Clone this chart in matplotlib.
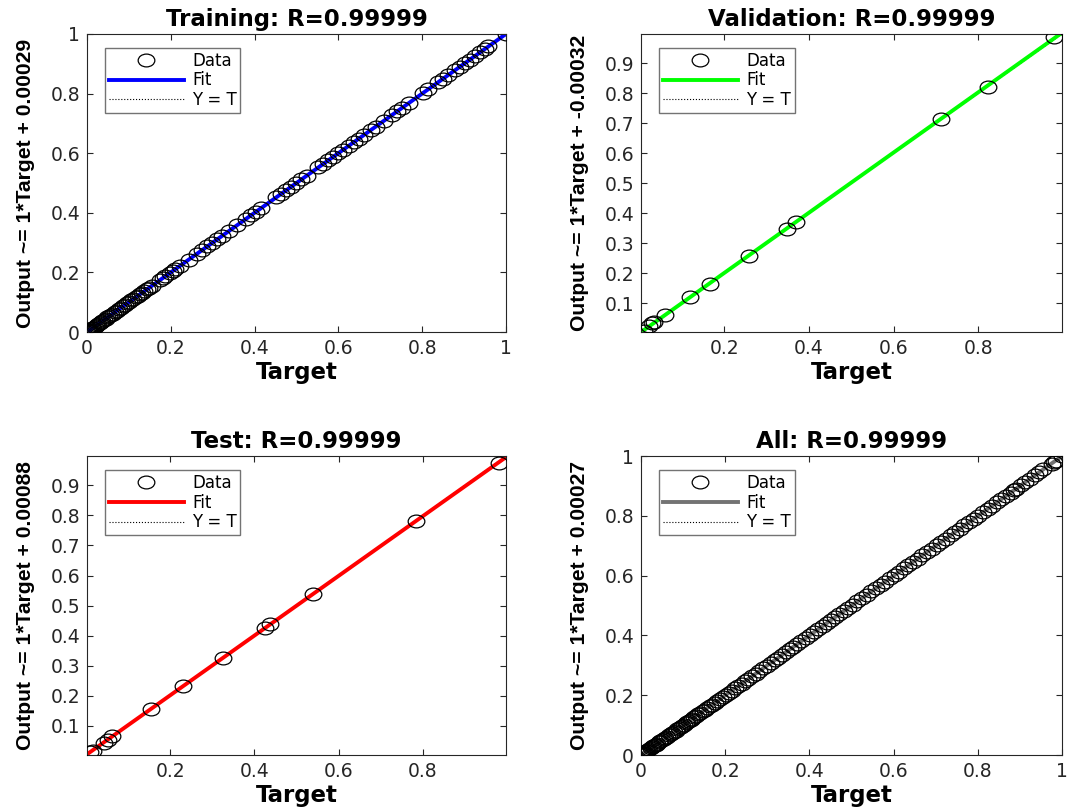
import numpy as np
import matplotlib
matplotlib.use("Agg")
import matplotlib.pyplot as plt
from matplotlib.path import Path
from matplotlib.transforms import Affine2D
from matplotlib.ticker import StrMethodFormatter

# =========================
# DATA
# =========================
train_target = [0.0, 0.002, 0.004, 0.006, 0.008, 0.010, 0.012, 0.015, 0.018, 0.021,
                0.024, 0.027, 0.030, 0.033, 0.037, 0.041, 0.045, 0.049, 0.053, 0.057,
                0.061, 0.066, 0.071, 0.076, 0.081, 0.086, 0.091, 0.096, 0.101, 0.106,
                0.111, 0.116, 0.121, 0.126, 0.131, 0.137, 0.143, 0.149, 0.155, 0.174,
                0.181, 0.187, 0.199, 0.205, 0.210, 0.223, 0.243, 0.263, 0.275, 0.287,
                0.299, 0.311, 0.323, 0.339, 0.359, 0.379, 0.391, 0.404, 0.416, 0.452,
                0.464, 0.476, 0.488, 0.500, 0.512, 0.524, 0.552, 0.564, 0.576, 0.588,
                0.600, 0.612, 0.625, 0.637, 0.649, 0.661, 0.677, 0.689, 0.709, 0.729,
                0.741, 0.753, 0.769, 0.801, 0.814, 0.838, 0.850, 0.862, 0.878, 0.890,
                0.902, 0.914, 0.926, 0.938, 0.950, 0.958, 1.0]
# circles sit on the identity line to pixel precision
train_output = train_target

val_target = [0.010, 0.023, 0.031, 0.035, 0.061, 0.119, 0.166, 0.258, 0.348, 0.369,
              0.711, 0.823, 0.979]
val_output = [0.009, 0.025, 0.033, 0.036, 0.060, 0.120, 0.165, 0.257, 0.347, 0.370,
              0.716, 0.822, 0.987]

test_target = [0.009, 0.016, 0.042, 0.051, 0.062, 0.154, 0.231, 0.325, 0.425, 0.438,
               0.539, 0.783, 0.981]
test_output = [0.012, 0.017, 0.043, 0.052, 0.064, 0.157, 0.231, 0.326, 0.425, 0.439,
               0.539, 0.783, 0.974]

all_target = [0.0, 0.002, 0.004, 0.006, 0.008, 0.010, 0.012, 0.014, 0.017, 0.020,
              0.023, 0.026, 0.029, 0.032, 0.035, 0.038, 0.042, 0.046, 0.050, 0.054,
              0.058, 0.062, 0.066, 0.070, 0.074, 0.078, 0.082, 0.086, 0.090, 0.094,
              0.098, 0.102, 0.106, 0.110, 0.114, 0.118, 0.122, 0.126, 0.131, 0.136,
              0.141, 0.146, 0.151, 0.157, 0.163, 0.169, 0.175, 0.181, 0.187, 0.194,
              0.201, 0.208, 0.215, 0.223, 0.231, 0.239, 0.247, 0.255, 0.263, 0.272,
              0.281, 0.290, 0.299, 0.308, 0.317, 0.326, 0.335, 0.344, 0.353, 0.362,
              0.371, 0.381, 0.391, 0.401, 0.411, 0.421, 0.431, 0.441, 0.451, 0.461,
              0.471, 0.481, 0.492, 0.503, 0.514, 0.525, 0.536, 0.547, 0.558, 0.569,
              0.580, 0.591, 0.602, 0.613, 0.624, 0.635, 0.646, 0.657, 0.668, 0.679,
              0.690, 0.704, 0.712, 0.724, 0.735, 0.746, 0.757, 0.768, 0.779, 0.790,
              0.801, 0.812, 0.823, 0.834, 0.845, 0.856, 0.867, 0.878, 0.885, 0.891,
              0.902, 0.913, 0.924, 0.935, 0.946, 0.955, 0.975, 0.981, 0.985, 1.0]
all_output = all_target

titles = ["Training: R=0.99999", "Validation: R=0.99999", "Test: R=0.99999", "All: R=0.99999"]
ylabels = ["Output ~= 1*Target + 0.00029", "Output ~= 1*Target + -0.00032",
           "Output ~= 1*Target + 0.00088", "Output ~= 1*Target + 0.00027"]
fit_colors = [(0, 0, 1), (0, 1, 0), (1, 0, 0), (0.45, 0.45, 0.45)]
limits = [(0.0, 1.0), (0.004, 0.998), (0.002, 0.998), (0.0, 1.0)]

# =========================
# STYLE
# =========================
plt.rcParams["font.family"] = ["DejaVu Sans"]
ylabel_font = ["Liberation Sans", "DejaVu Sans"]

# slightly wide ellipse, the reference picture is stretched sideways
ellipse = Affine2D().scale(1.3, 1.0).transform_path(Path.unit_circle())

fig = plt.figure(figsize=(10.67, 8.09), dpi=100)
rects = [
    [0.0815, 0.5896, 0.3927, 0.3684],
    [0.6008, 0.5896, 0.3946, 0.3684],
    [0.0815, 0.0667, 0.3927, 0.3696],
    [0.6008, 0.0667, 0.3946, 0.3696],
]
panels = [(train_target, train_output), (val_target, val_output),
          (test_target, test_output), (all_target, all_output)]

for i, (tgt, out) in enumerate(panels):
    ax = fig.add_axes(rects[i])
    t = np.array(tgt)
    y = np.array(out)
    lim = np.array(limits[i])

    m, b = np.polyfit(t, y, 1)

    ax.plot(t, y, linestyle="none", marker=ellipse, markersize=12,
            markerfacecolor="none", markeredgecolor="black", markeredgewidth=0.9,
            zorder=3, label="Data")
    ax.plot(lim, m * lim + b, color=fit_colors[i], linewidth=2.8, zorder=2, label="Fit")
    ax.plot(lim, lim, color="black", linestyle=":", linewidth=0.8, zorder=1.5, label="Y = T")

    ax.set_xlim(lim)
    ax.set_ylim(lim)

    if i in (1, 2):
        ax.set_xticks([0.2, 0.4, 0.6, 0.8])
        ax.set_yticks([0.1, 0.2, 0.3, 0.4, 0.5, 0.6, 0.7, 0.8, 0.9])
    else:
        ax.set_xticks([0, 0.2, 0.4, 0.6, 0.8, 1])
        ax.set_yticks([0, 0.2, 0.4, 0.6, 0.8, 1])
    ax.xaxis.set_major_formatter(StrMethodFormatter("{x:g}"))
    ax.yaxis.set_major_formatter(StrMethodFormatter("{x:g}"))

    ax.tick_params(direction="in", length=4, width=0.8, top=True, right=True,
                   labelsize=13.5, colors=(0.15, 0.15, 0.15), pad=5)
    for sp in ax.spines.values():
        sp.set_color((0.15, 0.15, 0.15))
        sp.set_linewidth(0.8)

    ax.set_title(titles[i], fontsize=16.5, fontweight="bold", pad=6)
    ax.set_xlabel("Target", fontsize=16.5, fontweight="bold")
    ax.set_ylabel(ylabels[i], fontsize=15.2, fontweight="bold", family=ylabel_font)
    ax.xaxis.set_label_coords(0.5, -0.097)
    ax.yaxis.set_label_coords(-0.124, 0.5)

    leg = ax.legend(loc="upper left", bbox_to_anchor=(0.043, 0.953), borderaxespad=0,
                    fontsize=12, frameon=True, fancybox=False, framealpha=1,
                    edgecolor="0.45", handlelength=4.5, handletextpad=0.5,
                    labelspacing=0.11, borderpad=0.22, numpoints=1)
    leg.get_frame().set_linewidth(1.0)

fig.savefig("out.png", dpi=100)
